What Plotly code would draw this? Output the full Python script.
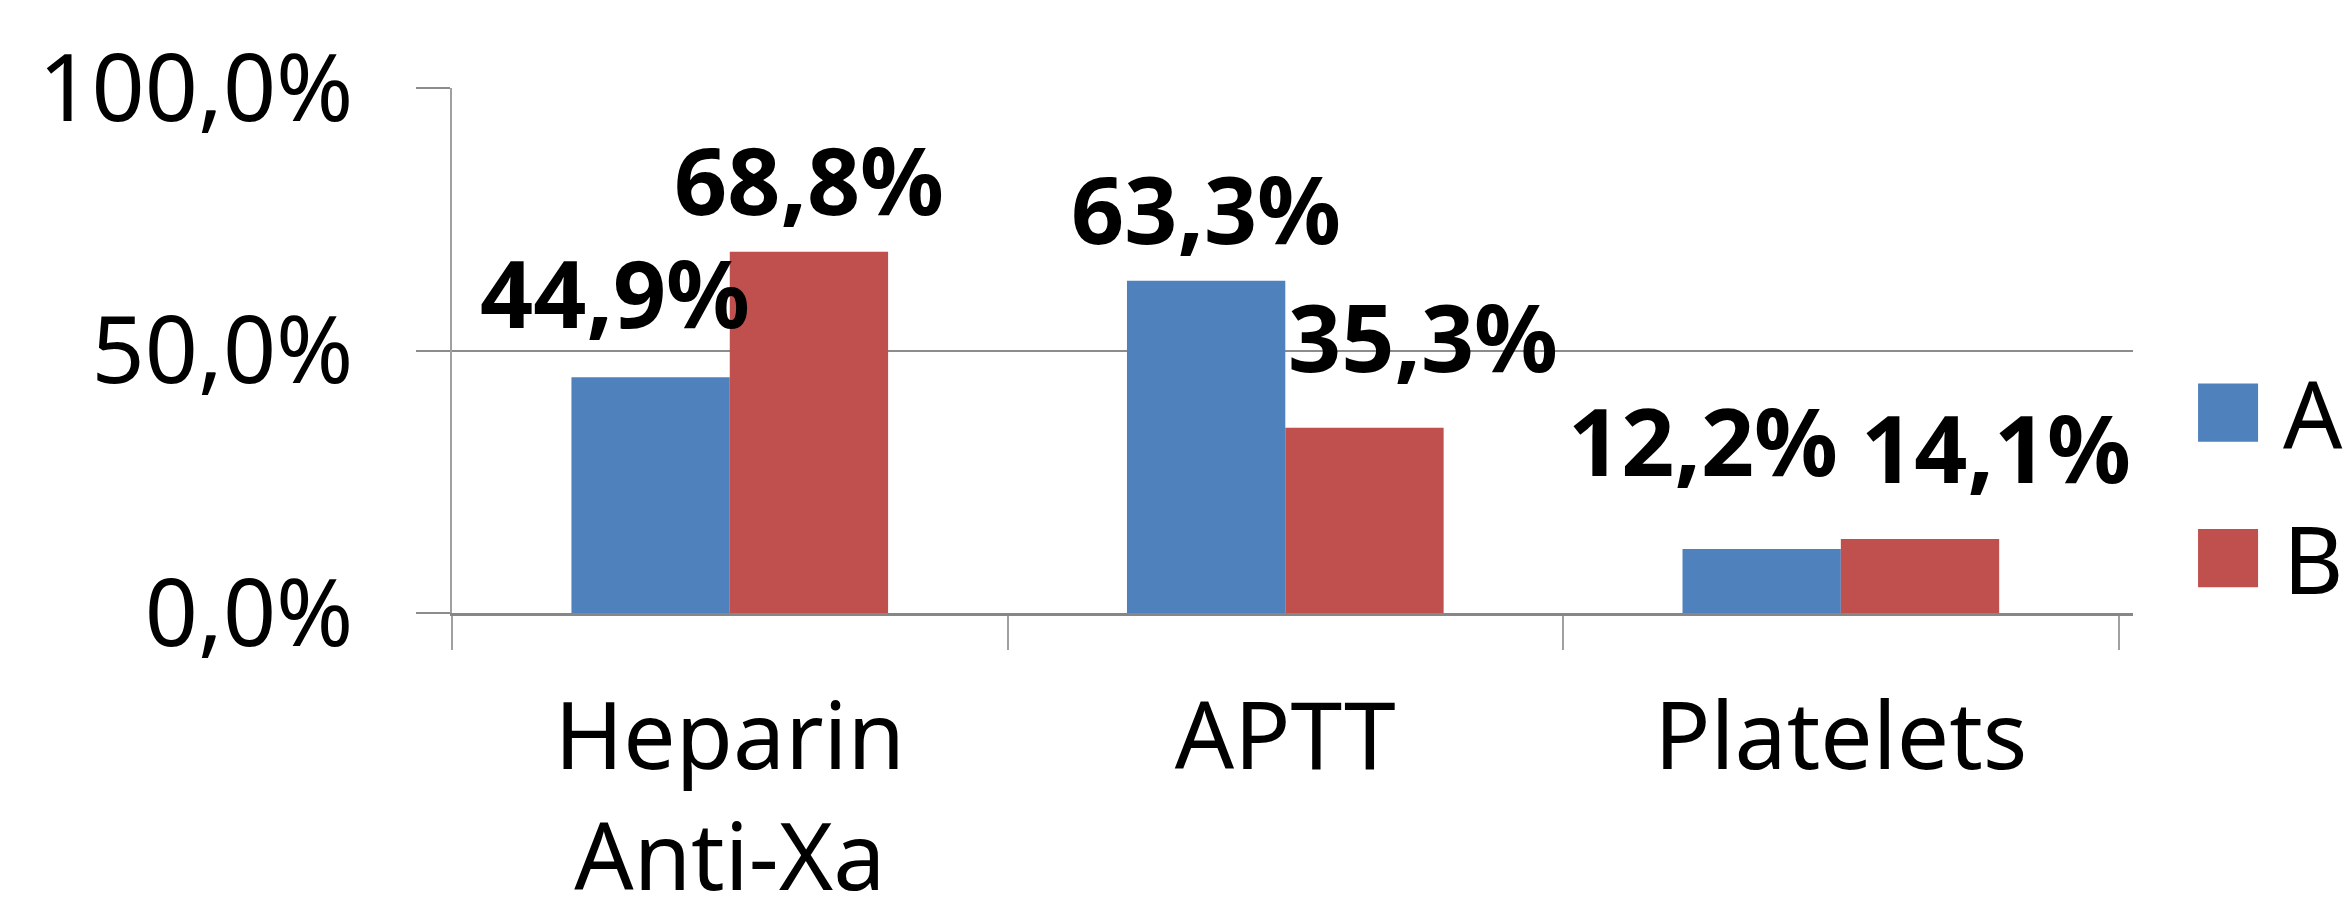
import plotly.graph_objects as go

categories = ["Heparin<br>Anti-Xa", "APTT", "Platelets"]
series_names = ["A", "B"]
values_a = [44.9, 63.3, 12.2]
values_b = [68.8, 35.3, 14.1]
colors = ["#4F81BD", "#C0504D"]
y_ticks = [0, 50, 100]

# label nudges (px) to mimic the manually placed data labels
label_dx = [[-36, 0, -59], [0, 59, 76]]
label_dy = [[85, 73, 109], [73, 92, 92]]

FONT = "Noto Sans"
FS = 93
BARGAP = 0.43


def pct(v):
    return f"{v:.1f}".replace(".", ",") + "%"


fig = go.Figure()
all_vals = [values_a, values_b]
for name, vals, col in zip(series_names, all_vals, colors):
    fig.add_trace(go.Bar(x=categories, y=vals, name=name,
                         marker=dict(color=col, line=dict(width=0)),
                         showlegend=False))

half = (1 - BARGAP) / 4
for s, vals in enumerate(all_vals):
    for i, v in enumerate(vals):
        fig.add_annotation(x=i + (-half if s == 0 else half), y=v, xref="x", yref="y",
                           text="<b>" + pct(v) + "</b>",
                           showarrow=False, yanchor="middle", xanchor="center",
                           xshift=label_dx[s][i], yshift=label_dy[s][i],
                           font=dict(family=FONT, size=FS, color="black"))

# custom legend (large swatches)
leg_y = [(0.326, 0.437), (0.049, 0.160)]
for (y0, y1), name, col in zip(leg_y, series_names, colors):
    fig.add_shape(type="rect", xref="paper", yref="paper", x0=1.0387, x1=1.0744,
                  y0=y0, y1=y1, fillcolor=col, line=dict(width=0))
    fig.add_annotation(xref="paper", yref="paper", x=1.088, y=(y0 + y1) / 2,
                       text=name, showarrow=False, xanchor="left", yanchor="middle",
                       font=dict(family=FONT, size=FS, color="black"))

# page body has an 8px default margin, so the figure is 8px smaller and shifted
fig.update_layout(
    width=2343, height=910, autosize=False,
    margin=dict(l=444, r=218, t=80, b=305),
    paper_bgcolor="white", plot_bgcolor="white",
    barmode="group", bargap=BARGAP, bargroupgap=0,
    font=dict(family=FONT, size=FS, color="black"),
)
fig.update_xaxes(
    type="category", tickson="boundaries",
    showline=True, linecolor="#878787", linewidth=3,
    ticks="outside", ticklen=34, tickcolor="#A0A0A0", tickwidth=2,
    showgrid=False, zeroline=False, ticklabelstandoff=41, automargin=False,
    tickfont=dict(family=FONT, size=FS, color="black"),
)
fig.update_yaxes(
    range=[0, 100], tickmode="array", tickvals=y_ticks, ticktext=[pct(t) for t in y_ticks],
    showline=True, linecolor="#A0A0A0", linewidth=2,
    ticks="outside", ticklen=34, tickcolor="#8C8C8C", tickwidth=2,
    showgrid=True, gridcolor="#8C8C8C", gridwidth=2, zeroline=False,
    ticklabelstandoff=44, automargin=False,
    tickfont=dict(family=FONT, size=FS, color="black"),
)
fig.write_html("out.html")
